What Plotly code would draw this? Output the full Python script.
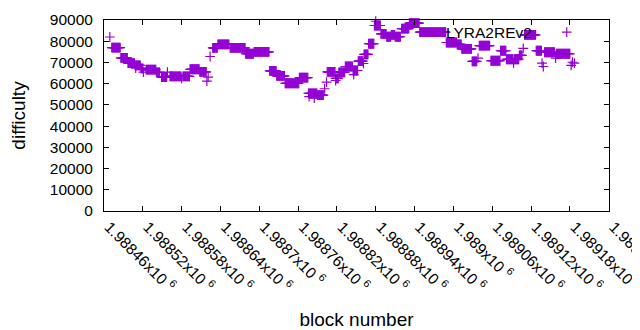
import numpy as np
import plotly.graph_objects as go

# Data: runs of blocks sharing the same difficulty (first block, last block, difficulty)
run_first = [1988469, 1988472, 1988486, 1988497, 1988508, 1988509, 1988517, 1988521, 1988525, 1988541,
             1988549, 1988558, 1988562, 1988580, 1988582, 1988593, 1988608, 1988619, 1988621, 1988624,
             1988628, 1988636, 1988655, 1988679, 1988692, 1988716, 1988727, 1988740, 1988762, 1988776,
             1988777, 1988785, 1988790, 1988801, 1988804, 1988805, 1988818, 1988823, 1988818, 1988833,
             1988845, 1988846, 1988853, 1988861, 1988862, 1988869, 1988878, 1988880, 1988888, 1988897,
             1988904, 1988910, 1988920, 1988932, 1988948, 1988989, 1989006, 1989013, 1989029, 1989038,
             1989040, 1989058, 1989073, 1989082, 1989093, 1989094, 1989102, 1989108, 1989110, 1989128,
             1989137, 1989139, 1989141, 1989158, 1989159, 1989182, 1989184, 1989187]
run_last = [1988469, 1988485, 1988496, 1988507, 1988516, 1988509, 1988520, 1988521, 1988540, 1988546,
            1988557, 1988558, 1988579, 1988580, 1988592, 1988607, 1988618, 1988619, 1988621, 1988624,
            1988635, 1988653, 1988678, 1988691, 1988715, 1988726, 1988739, 1988761, 1988775, 1988789,
            1988777, 1988785, 1988799, 1988801, 1988804, 1988817, 1988822, 1988832, 1988818, 1988844,
            1988852, 1988846, 1988860, 1988861, 1988868, 1988877, 1988887, 1988880, 1988896, 1988903,
            1988909, 1988918, 1988931, 1988947, 1988988, 1989005, 1989012, 1989028, 1989036, 1989038,
            1989056, 1989072, 1989081, 1989092, 1989093, 1989101, 1989106, 1989108, 1989127, 1989136,
            1989137, 1989139, 1989156, 1989158, 1989180, 1989182, 1989184, 1989187]
run_diff = [82000, 77000, 72200, 69700, 68600, 67300, 67200, 65400, 66600, 65300,
            63100, 65400, 63400, 62500, 63400, 66800, 65600, 61200, 63100, 72800,
            76900, 78500, 76900, 74100, 75000, 66000, 63700, 60200, 62800, 55400,
            53900, 53200, 54600, 57600, 60700, 65600, 62500, 65300, 61500, 68100,
            66200, 64300, 70600, 69500, 73800, 78800, 87400, 89400, 83500, 82100,
            83000, 82100, 85900, 88500, 84300, 79400, 78500, 76400, 70500, 72000,
            77900, 70800, 75500, 71500, 69700, 71500, 73300, 76600, 83000, 75500,
            69700, 68100, 74800, 72000, 74100, 68600, 70100, 69700]

x_tick_vals = [1988460, 1988520, 1988580, 1988640, 1988700, 1988760, 1988820,
               1988880, 1988940, 1989000, 1989060, 1989120, 1989180, 1989240]
x_tick_text = ["1.98846x10 <sup>6</sup>", "1.98852x10 <sup>6</sup>", "1.98858x10 <sup>6</sup>",
               "1.98864x10 <sup>6</sup>", "1.9887x10 <sup>6</sup>", "1.98876x10 <sup>6</sup>",
               "1.98882x10 <sup>6</sup>", "1.98888x10 <sup>6</sup>", "1.98894x10 <sup>6</sup>",
               "1.989x10 <sup>6</sup>", "1.98906x10 <sup>6</sup>", "1.98912x10 <sup>6</sup>",
               "1.98918x10 <sup>6</sup>", "1.98924x10 <sup>6</sup>"]
y_tick_vals = [0, 10000, 20000, 30000, 40000, 50000, 60000, 70000, 80000, 90000]
y_tick_text = ["0", "10000", "20000", "30000", "40000", "50000", "60000", "70000", "80000", "90000"]

blocks = []
diffs = []
for f, l, d in zip(run_first, run_last, run_diff):
    for b in range(f, l + 1):
        blocks.append(b)
        diffs.append(d)

COLOR = "#9400D3"
FONT = "Liberation Sans, Arial, sans-serif"
MARK = dict(symbol="cross-thin", size=7, color=COLOR, line=dict(color=COLOR, width=1.2))

fig = go.Figure()
fig.add_trace(go.Scatter(x=blocks, y=diffs, mode="markers", marker=MARK,
                         showlegend=False, cliponaxis=False))
# legend sample (gnuplot style: text then point)
fig.add_trace(go.Scatter(x=[0.9163], y=[0.936], xaxis="x2", yaxis="y2", mode="markers",
                         marker=MARK, showlegend=False, hoverinfo="skip"))

fig.update_layout(
    width=632, height=322,
    margin=dict(l=96, r=31, t=11.5, b=119.3),
    paper_bgcolor="white", plot_bgcolor="white",
    font=dict(family=FONT, size=15.5, color="black"),
    xaxis=dict(range=[1988460, 1989240.5], tickmode="array", tickvals=x_tick_vals,
               ticktext=x_tick_text, tickangle=45, ticks="inside", ticklen=5,
               tickcolor="black", showline=True, linecolor="black", linewidth=1,
               mirror="ticks", showgrid=False, zeroline=False, automargin=False,
               ticklabelshift=5, ticklabeloverflow="allow",
               title=dict(text="block number", standoff=18)),
    yaxis=dict(range=[0, 90000], tickmode="array", tickvals=y_tick_vals, ticktext=y_tick_text,
               ticks="inside", ticklen=5, tickcolor="black", showline=True,
               linecolor="black", linewidth=1, mirror="ticks", showgrid=False,
               zeroline=False, ticklabelstandoff=7, automargin=False,
               title=dict(text="difficulty", standoff=21)),
    xaxis2=dict(range=[0, 1], overlaying="x", visible=False),
    yaxis2=dict(range=[0, 1], overlaying="y", visible=False),
    annotations=[dict(text="LYRA2REv2", xref="paper", yref="paper", x=0.851, y=0.936,
                      xanchor="right", yanchor="middle", showarrow=False,
                      font=dict(family=FONT, size=15.5, color="black"))],
)

fig.write_html("out.html")
